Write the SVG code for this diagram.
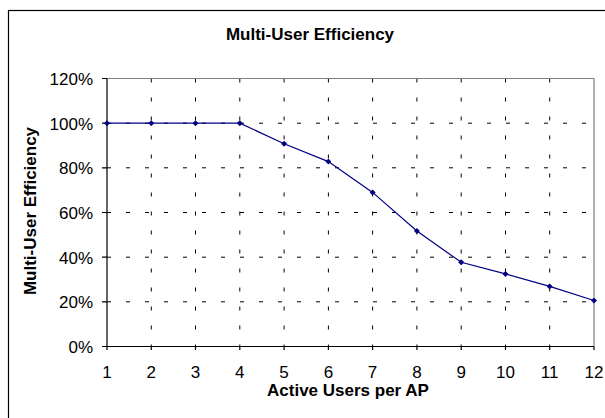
<svg xmlns="http://www.w3.org/2000/svg" width="605" height="418" viewBox="0 0 605 418">
<style>
text{font-family:"Liberation Sans",Arial,sans-serif;fill:#000}
.t{font-size:17px;font-weight:bold}
.lb{font-size:17px}
.grid{stroke:#000;stroke-width:1;stroke-dasharray:4 15;fill:none}
.ax{stroke:#000;stroke-width:1.2;fill:none}
.bd{stroke:#808080;stroke-width:1.2;fill:none}
.ser{stroke:#000080;stroke-width:1.2;fill:none}
</style>
<defs>
<marker id="dm" viewBox="-3 -3 6 6" markerWidth="6" markerHeight="6" refX="0" refY="0" markerUnits="userSpaceOnUse">
<path d="M0,-3 L3,0 L0,3 L-3,0 Z" fill="#000080"/>
</marker>
</defs>
<rect x="8.5" y="10.5" width="700" height="500" fill="#fff" stroke="#000" stroke-width="1.2"/>
<g id="title"><text class="t" x="310" y="40" text-anchor="middle">Multi-User Efficiency</text></g>
<g id="grid">
<path class="grid" d="M107,301.8H594M107,257.2H594M107,212.5H594M107,167.8H594M107,123.2H594"/>
<path class="grid" d="M151.3,78.5V346.5M195.5,78.5V346.5M239.8,78.5V346.5M284.1,78.5V346.5M328.4,78.5V346.5M372.6,78.5V346.5M416.9,78.5V346.5M461.2,78.5V346.5M505.5,78.5V346.5M549.7,78.5V346.5"/>
</g>
<g id="plotborder">
<path class="bd" d="M107,78.5H594V346.5"/>
</g>
<g id="axes">
<path class="ax" d="M107,78.5V346.5H594"/>
<path class="ax" d="M102,346.5H107M102,301.8H107M102,257.2H107M102,212.5H107M102,167.8H107M102,123.2H107M102,78.5H107"/>
<path class="ax" d="M107,346.5V350M151.3,346.5V350M195.5,346.5V350M239.8,346.5V350M284.1,346.5V350M328.4,346.5V350M372.6,346.5V350M416.9,346.5V350M461.2,346.5V350M505.5,346.5V350M549.7,346.5V350M594,346.5V350"/>
</g>
<g id="ylabels" class="lb" text-anchor="end">
<text class="lb" x="93" y="85">120%</text>
<text class="lb" x="93" y="129.5">100%</text>
<text class="lb" x="93" y="174">80%</text>
<text class="lb" x="93" y="219">60%</text>
<text class="lb" x="93" y="263.5">40%</text>
<text class="lb" x="93" y="308">20%</text>
<text class="lb" x="93" y="352.5">0%</text>
</g>
<g id="xlabels" text-anchor="middle">
<text class="lb" x="107" y="378">1</text>
<text class="lb" x="151.3" y="378">2</text>
<text class="lb" x="195.5" y="378">3</text>
<text class="lb" x="239.8" y="378">4</text>
<text class="lb" x="284.1" y="378">5</text>
<text class="lb" x="328.4" y="378">6</text>
<text class="lb" x="372.6" y="378">7</text>
<text class="lb" x="416.9" y="378">8</text>
<text class="lb" x="461.2" y="378">9</text>
<text class="lb" x="505.5" y="378">10</text>
<text class="lb" x="549.7" y="378">11</text>
<text class="lb" x="594" y="378">12</text>
</g>
<g id="xtitle"><text class="t" x="348" y="396" text-anchor="middle">Active Users per AP</text></g>
<g id="ytitle"><text class="t" transform="translate(36,211) rotate(-90)" text-anchor="middle">Multi-User Efficiency</text></g>
<g id="connectors">
<polyline class="ser" marker-start="url(#dm)" marker-mid="url(#dm)" marker-end="url(#dm)" points="107,123.2 151.3,123.2 195.5,123.2 239.8,123.2 284.1,143.7 328.4,161.6 372.6,192.4 416.9,231 461.2,262.3 505.5,273.9 549.7,286.4 594,300.5"/>
</g>
</svg>
